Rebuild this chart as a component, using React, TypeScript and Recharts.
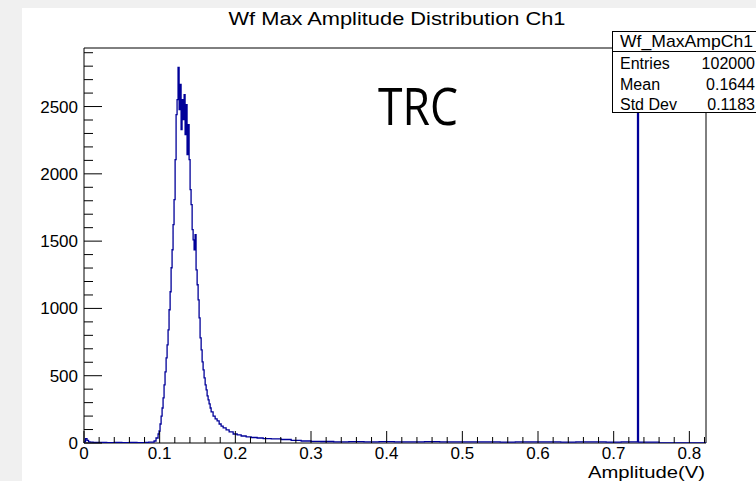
import React from 'react';
import { LineChart, Line, XAxis, YAxis, ReferenceArea } from 'recharts';

// Bin left edges (V) and entries per bin
const amplitude = [
  0.0, 0.002, 0.004, 0.006, 0.008, 0.012, 0.02, 0.03, 0.04, 0.05, 0.06, 0.07, 0.08, 0.0855,
  0.0886, 0.0926, 0.0952, 0.0979, 0.0992, 0.1005, 0.1019, 0.1032, 0.1045, 0.1058, 0.1071,
  0.1085, 0.1098, 0.1111, 0.1124, 0.1138, 0.1151, 0.1164, 0.1177, 0.119, 0.1204, 0.1217,
  0.123, 0.1243, 0.1257, 0.127, 0.1283, 0.1296, 0.131, 0.1323, 0.1336, 0.1349, 0.1362,
  0.1376, 0.1389, 0.1402, 0.1415, 0.1429, 0.1442, 0.1455, 0.1468, 0.1481, 0.1495, 0.1508,
  0.1521, 0.1534, 0.1548, 0.1561, 0.1574, 0.1587, 0.1601, 0.1614, 0.1627, 0.164, 0.1653,
  0.1667, 0.168, 0.1706, 0.1733, 0.1759, 0.1786, 0.1812, 0.1839, 0.1878, 0.1918, 0.1971,
  0.2024, 0.2077, 0.2143, 0.2209, 0.2288, 0.2368, 0.2474, 0.2606, 0.2738, 0.287, 0.3,
  0.313, 0.33, 0.35, 0.37, 0.39, 0.41, 0.43, 0.45, 0.47, 0.49, 0.51, 0.53, 0.55, 0.57,
  0.59, 0.61, 0.63, 0.65, 0.67, 0.69, 0.71, 0.7315, 0.7328, 0.76, 0.822,
];
const counts = [
  8, 32, 20, 9, 6, 4, 5, 3, 4, 3, 4, 3, 5, 6,
  7, 15, 37, 67, 89, 141, 200, 260, 335, 432, 528,
  632, 729, 841, 990, 1124, 1302, 1436, 1622, 1808, 2106, 2440,
  2552, 2790, 2478, 2664, 2329, 2552, 2403, 2589, 2292, 2515, 2143,
  2366, 2106, 1882, 1771, 1585, 1510, 1436, 1548, 1287, 1176, 1064,
  930, 781, 692, 603, 543, 484, 432, 394, 350, 320, 290,
  260, 231, 200, 179, 164, 141, 126, 112, 97, 82, 67,
  60, 52, 45, 41, 37, 33, 30, 26, 19, 15, 12,
  11, 9, 10, 8, 10, 9, 8, 10, 8, 9, 8, 9, 7, 9,
  8, 9, 7, 8, 9, 7, 8, 4300, 6, 0, 0,
];

const xMajorTicks = [0, 0.1, 0.2, 0.3, 0.4, 0.5, 0.6, 0.7, 0.8];
const xTickLabels = ['0', '0.1', '0.2', '0.3', '0.4', '0.5', '0.6', '0.7', '0.8'];
const xMinorTicks = [
  0.02, 0.04, 0.06, 0.08, 0.12, 0.14, 0.16, 0.18, 0.22, 0.24, 0.26, 0.28, 0.32, 0.34, 0.36,
  0.38, 0.42, 0.44, 0.46, 0.48, 0.52, 0.54, 0.56, 0.58, 0.62, 0.64, 0.66, 0.68, 0.72, 0.74,
  0.76, 0.78, 0.82,
];
const yMajorTicks = [0, 500, 1000, 1500, 2000, 2500];
const yTickLabels = ['0', '500', '1000', '1500', '2000', '2500'];
const yMinorTicks = [
  100, 200, 300, 400, 600, 700, 800, 900, 1100, 1200, 1300, 1400, 1600, 1700, 1800, 1900,
  2100, 2200, 2300, 2400, 2600, 2700, 2800, 2900,
];

const statsTitle = 'Wf_MaxAmpCh1';
const statsNames = ['Entries', 'Mean', 'Std Dev'];
const statsValues = ['102000', '0.1644', '0.1183'];

const X_MAX = 0.822;
const Y_MAX = 2935;

const data = amplitude.map((a, i) => ({ a, n: counts[i] }));
const xTicks = [...xMajorTicks, ...xMinorTicks].sort((p, q) => p - q);
const yTicks = [...yMajorTicks, ...yMinorTicks].sort((p, q) => p - q);

const FONT = '"Liberation Sans", Arial, Helvetica, sans-serif';

const XTick = (props: any) => {
  const { x, y, payload } = props;
  const v = payload.value;
  const idx = xMajorTicks.findIndex((m) => Math.abs(m - v) < 1e-6);
  const major = idx >= 0;
  return (
    <g>
      <line x1={x} x2={x} y1={y} y2={y - (major ? 12 : 6)} stroke="#000" strokeWidth={1} />
      {major && (
        <text x={x} y={y + 16} textAnchor="middle" fontSize={17} fontFamily={FONT} fill="#000">
          {xTickLabels[idx]}
        </text>
      )}
    </g>
  );
};

const YTick = (props: any) => {
  const { x, y, payload } = props;
  const v = payload.value;
  const idx = yMajorTicks.indexOf(v);
  const major = idx >= 0;
  return (
    <g>
      <line x1={x} x2={x + (major ? 18 : 9)} y1={y} y2={y} stroke="#000" strokeWidth={1} />
      {major && (
        <text x={x - 6} y={y + 6} textAnchor="end" fontSize={17} fontFamily={FONT} fill="#000">
          {yTickLabels[idx]}
        </text>
      )}
    </g>
  );
};

export default function App() {
  return (
    <div
      style={{
        position: 'absolute',
        left: 0,
        top: 0,
        width: 756,
        height: 481,
        background: '#f0f0f0',
        overflow: 'hidden',
      }}
    >
      <div style={{ position: 'absolute', left: 22, top: 8, right: 0, bottom: 0, background: '#fff' }} />
      <div style={{ position: 'absolute', left: 0, top: 0 }}>
        <LineChart width={756} height={481} data={data} margin={{ top: 48, right: 50, bottom: 0, left: 0 }}>
          <XAxis
            dataKey="a"
            type="number"
            domain={[0, X_MAX]}
            ticks={xTicks}
            interval={0}
            height={38}
            tickSize={0}
            tickMargin={0}
            axisLine={false}
            tickLine={false}
            tick={<XTick />}
            allowDataOverflow
          />
          <YAxis
            type="number"
            domain={[0, Y_MAX]}
            ticks={yTicks}
            interval={0}
            width={84}
            tickSize={0}
            tickMargin={0}
            axisLine={false}
            tickLine={false}
            tick={<YTick />}
            allowDataOverflow
          />
          <ReferenceArea x1={0} x2={X_MAX} y1={0} y2={Y_MAX} fill="none" stroke="#000" strokeWidth={1} ifOverflow="extendDomain" />
          <Line
            type="stepAfter"
            dataKey="n"
            stroke="#000099"
            strokeWidth={1.3}
            dot={false}
            isAnimationActive={false}
          />
        </LineChart>
      </div>
      <svg width={756} height={481} style={{ position: 'absolute', left: 0, top: 0 }}>
        <text
          x={397}
          y={25}
          textAnchor="middle"
          fontSize={19}
          fontFamily={FONT}
          fill="#000"
          textLength={337}
          lengthAdjust="spacingAndGlyphs"
        >
          Wf Max Amplitude Distribution Ch1
        </text>
        <text
          x={705}
          y={478}
          textAnchor="end"
          fontSize={16}
          fontFamily={FONT}
          fill="#000"
          textLength={117}
          lengthAdjust="spacingAndGlyphs"
        >
          Amplitude(V)
        </text>
        <text
          x={378}
          y={125}
          fontSize={52}
          fontFamily='"Open Sans", sans-serif'
          fill="#000"
          textLength={80}
          lengthAdjust="spacingAndGlyphs"
        >
          TRC
        </text>
        <rect x={612.5} y={31.5} width={170} height={81} fill="#fff" stroke="#000" strokeWidth={1} />
        <line x1={612} x2={756} y1={51.5} y2={51.5} stroke="#000" strokeWidth={1} />
        <text x={620} y={47} fontSize={17} fontFamily={FONT} fill="#000" textLength={133} lengthAdjust="spacingAndGlyphs">
          {statsTitle}
        </text>
        {statsNames.map((name, i) => (
          <g key={name}>
            <text x={620} y={69 + i * 20.5} fontSize={16} fontFamily={FONT} fill="#000">
              {name}
            </text>
            <text x={755} y={69 + i * 20.5} textAnchor="end" fontSize={16} fontFamily={FONT} fill="#000">
              {statsValues[i]}
            </text>
          </g>
        ))}
      </svg>
    </div>
  );
}
